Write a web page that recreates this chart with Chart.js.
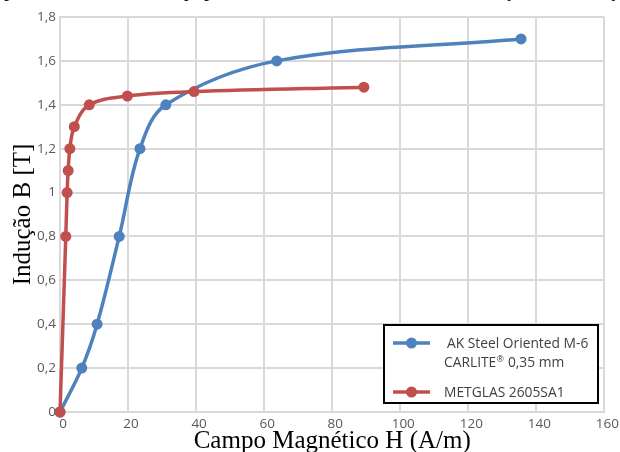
<!DOCTYPE html>
<html>
<head>
<meta charset="utf-8">
<script src="https://cdn.jsdelivr.net/npm/chart.js@4.4.0/dist/chart.umd.min.js"></script>
<style>
  html, body { margin: 0; padding: 0; background: #fff; overflow: hidden; }
  #wrap { position: relative; width: 620px; height: 452px; overflow: hidden; }
  #topo { position: absolute; left: 4px; top: -21px; font: 20px/20px "Liberation Serif"; white-space: nowrap; color: #000; }
  canvas { position: absolute; left: 0; top: 0; }
</style>
</head>
<body>
<div id="wrap">
  <div id="topo">permitindo o uso do equipamento com níveis elevados de indução de saturação</div>
  <canvas id="grafico" width="620" height="452"></canvas>
</div>
<script>
// dados (H em A/m, B em T)
const campoAK = [0, 6.4, 10.9, 17.4, 23.5, 31.1, 63.7, 135.5];
const inducaoAK = [0, 0.2, 0.4, 0.8, 1.2, 1.4, 1.6, 1.7];
const campoMet = [0, 1.7, 2.1, 2.4, 2.9, 4.2, 8.6, 19.8, 39.4, 89.3];
const inducaoMet = [0, 0.8, 1.0, 1.1, 1.2, 1.3, 1.4, 1.44, 1.46, 1.48];
const rotulosSeries = [['AK Steel Oriented M-6', 'CARLITE® 0,35 mm'], ['METGLAS 2605SA1']];
const ticksX = [0, 20, 40, 60, 80, 100, 120, 140, 160];
const ticksY = ['0', '0,2', '0,4', '0,6', '0,8', '1', '1,2', '1,4', '1,6', '1,8'];

const pontos = (xs, ys) => xs.map((x, i) => ({ x: x, y: ys[i] }));
const azul = '#4f81bd';
const vermelho = '#c0504d';
const cinza = '#d9d9d9';
const fonteLeg = '13.8px "Open Sans"';

// escreve o texto, com o "®" menor e elevado
function textoLegenda(c, t, x, y) {
  const partes = t.split('®');
  c.font = fonteLeg;
  c.fillText(partes[0], x, y);
  if (partes.length > 1) {
    let px = x + c.measureText(partes[0]).width;
    c.font = '8.5px "Open Sans"';
    c.fillText('®', px + 0.5, y - 3.5);
    px += c.measureText('®').width + 1;
    c.font = fonteLeg;
    c.fillText(partes[1], px, y);
  }
}

// legenda com caixa preta, como no original
const legendaCaixa = {
  id: 'legendaCaixa',
  afterDraw(chart) {
    const c = chart.ctx;
    c.save();
    c.fillStyle = '#fff';
    c.fillRect(384, 325, 214, 78);
    c.strokeStyle = '#000';
    c.lineWidth = 2;
    c.strokeRect(384, 325, 214, 78);
    const linhasY = [343, 392];
    chart.data.datasets.forEach((ds, i) => {
      const y = linhasY[i];
      c.strokeStyle = ds.borderColor;
      c.lineWidth = 3.5;
      c.beginPath(); c.moveTo(393, y); c.lineTo(430, y); c.stroke();
      c.fillStyle = ds.borderColor;
      c.beginPath(); c.arc(411.5, y, 5.5, 0, Math.PI * 2); c.fill();
      c.fillStyle = '#404040';
      c.textBaseline = 'middle';
      rotulosSeries[i].forEach((t, j) => {
        textoLegenda(c, t, (i === 0 && j === 0) ? 447 : 444, y + 1 + j * 19.5);
      });
    });
    c.restore();
  }
};

new Chart(document.getElementById('grafico'), {
  type: 'scatter',
  data: {
    datasets: [{
      label: rotulosSeries[0].join(' '),
      data: pontos(campoAK, inducaoAK),
      showLine: true,
      borderColor: azul,
      backgroundColor: azul,
      borderWidth: 3.5,
      pointRadius: 5.5,
      pointBorderWidth: 0,
      tension: 0.35,
      clip: 10,
      order: 1
    }, {
      label: rotulosSeries[1].join(' '),
      data: pontos(campoMet, inducaoMet),
      showLine: true,
      borderColor: vermelho,
      backgroundColor: vermelho,
      borderWidth: 3.5,
      pointRadius: 5.5,
      pointBorderWidth: 0,
      tension: 0.35,
      clip: 10,
      order: 0
    }]
  },
  options: {
    responsive: false,
    animation: false,
    devicePixelRatio: 1,
    layout: { padding: { top: 17, right: 15, bottom: 0, left: 0 } },
    plugins: { legend: { display: false }, tooltip: { enabled: false } },
    scales: {
      x: {
        type: 'linear',
        min: 0,
        max: 160,
        afterBuildTicks: s => { s.ticks = ticksX.map(v => ({ value: v })); },
        afterFit: s => { s.height = 40; },
        grid: { color: cinza, lineWidth: 2, drawTicks: false },
        border: { color: cinza, width: 2 },
        ticks: { color: '#595959', font: { family: 'Open Sans', size: 13.5 }, padding: 4, labelOffset: 3, maxRotation: 0 },
        title: {
          display: true,
          text: 'Campo Magnético H (A/m)',
          color: '#000',
          font: { family: 'Liberation Serif', size: 25, lineHeight: 1.2 },
          padding: { top: 0, bottom: -4 }
        }
      },
      y: {
        min: 0,
        max: 1.8,
        afterBuildTicks: s => { s.ticks = ticksY.map(t => ({ value: parseFloat(t.replace(',', '.')) })); },
        afterFit: s => { s.width = 60; },
        grid: { color: cinza, lineWidth: 2, drawTicks: false },
        border: { color: cinza, width: 2 },
        ticks: {
          color: '#595959',
          font: { family: 'Open Sans', size: 13.5 },
          padding: 4,
          callback: (v, i) => ticksY[i]
        },
        title: {
          display: true,
          text: 'Indução B [T]',
          color: '#000',
          font: { family: 'Liberation Serif', size: 25, lineHeight: 1.2 },
          padding: { top: 8, bottom: 0 }
        }
      }
    }
  },
  plugins: [legendaCaixa]
});
</script>
</body>
</html>
